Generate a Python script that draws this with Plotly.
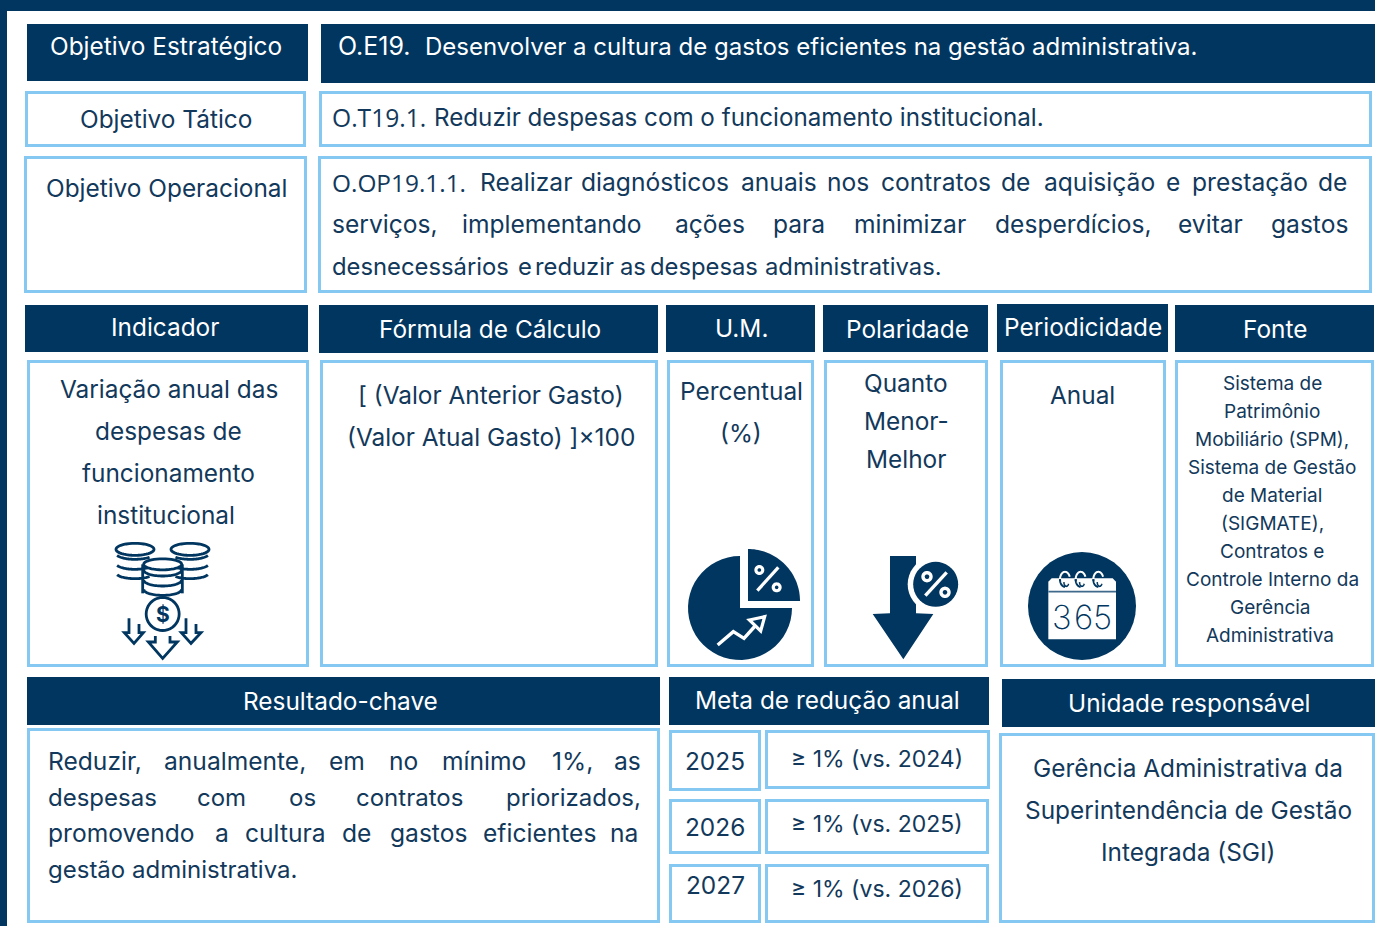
import math
import plotly.graph_objects as go

DARK = "#00365F"
LIGHT = "#85C9F3"
INK = "#12395B"
FONT = "Inter"
BASE = 24.4

# ---- content ----
dark_labels = ["Objetivo Estratégico", "Indicador", "Fórmula de Cálculo", "U.M.", "Polaridade",
               "Periodicidade", "Fonte", "Resultado-chave", "Meta de redução anual", "Unidade responsável"]
strategic_code = "O.E19."
strategic_text = "Desenvolver a cultura de gastos eficientes na gestão administrativa."
tactical_label = "Objetivo Tático"
tactical_code = "O.T19.1."
tactical_text = "Reduzir despesas com o funcionamento institucional."
operational_label = "Objetivo Operacional"
operational_code = "O.OP19.1.1."
operational_line1 = ["Realizar", "diagnósticos", "anuais", "nos", "contratos", "de", "aquisição", "e", "prestação", "de"]
operational_line2 = ["serviços,", "implementando", "ações", "para", "minimizar", "desperdícios,", "evitar", "gastos"]
operational_line3 = ["desnecessários", "e", "reduzir", "as", "despesas", "administrativas."]
indicator_lines = ["Variação anual das", "despesas de", "funcionamento", "institucional"]
formula_lines = ["[ (Valor Anterior Gasto)", "(Valor Atual Gasto) ]×100"]
unit_lines = ["Percentual", "(%)"]
polarity_lines = ["Quanto", "Menor-", "Melhor"]
periodicity = "Anual"
source_lines = ["Sistema de", "Patrimônio", "Mobiliário (SPM),", "Sistema de Gestão", "de Material", "(SIGMATE),",
                "Contratos e", "Controle Interno da", "Gerência", "Administrativa"]
result_line1 = ["Reduzir,", "anualmente,", "em", "no", "mínimo", "1%,", "as"]
result_line2 = ["despesas", "com", "os", "contratos", "priorizados,"]
result_line3 = ["promovendo", "a", "cultura", "de", "gastos", "eficientes", "na"]
result_line4 = "gestão administrativa."
years = ["2025", "2026", "2027"]
targets = ["≥ 1% (vs. 2024)", "≥ 1% (vs. 2025)", "≥ 1% (vs. 2026)"]
unit_resp_lines = ["Gerência Administrativa da", "Superintendência de Gestão", "Integrada (SGI)"]
calendar_digits = ["3", "6", "5"]

shapes, annos = [], []


def rect(x0, y0, x1, y1, fill=None, line=None, w=0):
    shapes.append(dict(type="rect", xref="x", yref="y", x0=x0, y0=y0, x1=x1, y1=y1,
                       fillcolor=fill or "rgba(0,0,0,0)", layer="below",
                       line=dict(color=line or "rgba(0,0,0,0)", width=w)))


def box(x0, y0, x1, y1):
    rect(x0 + 1.5, y0 + 1.5, x1 - 1.5, y1 - 1.5, "#FFFFFF", LIGHT, 3)


def text(s, x, y, size=BASE, color=INK, anchor="center", weight=None, family=FONT):
    f = dict(family=family, size=size, color=color)
    if weight:
        f["weight"] = weight
    annos.append(dict(text=s, x=x, y=y, xref="x", yref="y", showarrow=False, xanchor=anchor,
                      yanchor="middle", font=f, borderpad=0, borderwidth=0))


def path(d, fill=None, line=None, w=0):
    shapes.append(dict(type="path", xref="x", yref="y", path=d, layer="above",
                       fillcolor=fill or "rgba(0,0,0,0)",
                       line=dict(color=line or "rgba(0,0,0,0)", width=w)))


def arc(cx, cy, rx, ry, a0, a1, n=40):
    return [(cx + rx * math.cos(math.radians(a0 + (a1 - a0) * i / n)),
             cy + ry * math.sin(math.radians(a0 + (a1 - a0) * i / n))) for i in range(n + 1)]


def poly(pts, close=False):
    return "M" + " L".join(f"{x:.2f},{y:.2f}" for x, y in pts) + (" Z" if close else "")


def words(items, xs, y, size=24.6):
    for w_, x in zip(items, xs):
        text(w_, x, y, size=size, anchor="left")


# ---- frame ----
rect(0, 0, 1375, 11, DARK)
rect(0, 0, 7, 926, DARK)

# ---- dark header bars ----
dark_boxes = [(27, 24, 308, 81), (25, 305, 308, 352), (319, 305, 658, 353), (666, 305, 815, 352),
              (823, 305, 988, 352), (997, 304, 1168, 352), (1175, 305, 1374, 352),
              (27, 677, 660, 725), (669, 677, 989, 725), (1002, 679, 1375, 727)]
dark_centres = [(166, 46), (165, 327), (490, 329), (741, 328), (907, 329), (1083, 327), (1275, 329),
                (340, 701), (827, 700), (1189, 703)]
for b, c, s in zip(dark_boxes, dark_centres, dark_labels):
    rect(*b, DARK)
    text(s, c[0], c[1], color="#FFFFFF")
rect(321, 24, 1375, 83, DARK)
text(strategic_code, 338, 46, size=25, color="#FFFFFF", anchor="left")
text(strategic_text, 425, 46, size=24, color="#FFFFFF", anchor="left")

# ---- outlined cells ----
for b in [(25, 91, 306, 147), (319, 91, 1372, 147), (24, 156, 307, 293), (318, 156, 1372, 293),
          (27, 360, 309, 667), (320, 360, 658, 667), (667, 360, 814, 667), (824, 360, 988, 667),
          (1000, 360, 1166, 667), (1175, 360, 1374, 667), (27, 728, 660, 923),
          (669, 730, 761, 791), (765, 730, 990, 789), (669, 799, 761, 854), (765, 799, 989, 854),
          (669, 864, 761, 923), (765, 864, 989, 923), (999, 733, 1375, 923)]:
    box(*b)

# ---- body text ----
text(tactical_label, 166, 119)
text(tactical_code, 332, 117, size=24.6, anchor="left", family="Open Sans")
text(tactical_text, 434, 117, size=24.2, anchor="left")
text(operational_label, 166, 188)
text(operational_code, 332, 182, size=24.4, anchor="left", family="Open Sans")
words(operational_line1, [480, 581, 741, 827, 881, 1001, 1044, 1166, 1192, 1318], 182)
words(operational_line2, [332, 462, 675, 773, 854, 995, 1178, 1271], 224)
words(operational_line3, [332, 518, 535, 620, 650, 765], 266, size=23.8)
for s, x, y in zip(indicator_lines, [169, 168, 168, 166], [389, 431, 473, 515]):
    text(s, x, y)
for s, x, y in zip(formula_lines, [491, 491], [395, 437]):
    text(s, x, y)
for s, y in zip(unit_lines, [391, 433]):
    text(s, 741, y)
for s, y in zip(polarity_lines, [383, 421, 459]):
    text(s, 906, y)
text(periodicity, 1082, 395)
for s, x, y in zip(source_lines, [1272, 1272, 1272, 1272, 1272, 1272, 1272, 1272, 1270, 1270],
                   [383, 411, 439, 467, 495, 523, 551, 579, 607, 635]):
    text(s, x, y, size=19)
words(result_line1, [48, 164, 329, 389, 442, 552, 614], 761)
words(result_line2, [48, 197, 289, 356, 506], 797, size=24)
words(result_line3, [48, 215, 245, 342, 390, 483, 610], 833)
text(result_line4, 48, 869, size=24, anchor="left")
for s, y in zip(years, [761, 827, 885]):
    text(s, 715, y)
for s, y in zip(targets, [759, 824, 889]):
    text(s, 877, y, size=23)
for s, y in zip(unit_resp_lines, [768, 810, 852]):
    text(s, 1188, y)


# ---- icon: coins ----
def cx(v):
    return 90 + v / 3


def cy(v):
    return 530 + v / 3


for ex in [135, 300]:
    path(poly(arc(cx(ex), cy(58), 19, 6, 0, 360), True), None, DARK, 2.8)
for side, ex in [(-1, 135), (1, 300)]:
    for oy in [88, 118, 146]:
        a = (40, 160) if side == -1 else (20, 140)
        path(poly(arc(cx(ex), cy(oy - 18), 19, 6, *a)), None, DARK, 2.8)
path(poly(arc(cx(218), cy(103), 19, 5.5, 0, 360), True), "#FFFFFF", DARK, 2.8)
for oy in [132, 162, 190]:
    path(poly(arc(cx(218), cy(oy - 12), 19, 6, 0, 180)), None, DARK, 2.8)
path(poly([(cx(158), cy(103)), (cx(158), cy(190))]), None, DARK, 2.8)
path(poly([(cx(277), cy(103)), (cx(277), cy(190))]), None, DARK, 2.8)
path(poly(arc(cx(218), cy(252), 16.5, 16.5, 0, 360), True), "#FFFFFF", DARK, 2.8)
text("$", cx(218), cy(254), size=21, color=DARK, weight=700)
arrow_l = [(117, 265), (117, 308), (103, 308), (132, 340), (160, 308), (147, 308), (147, 282)]
arrow_r = [(288, 265), (288, 308), (274, 308), (303, 340), (333, 308), (318, 308), (318, 282)]
arrow_c = [(196, 318), (196, 336), (175, 336), (218, 385), (262, 336), (240, 336), (240, 318)]
for a in (arrow_l, arrow_r, arrow_c):
    path(poly([(cx(x), cy(y)) for x, y in a]), None, DARK, 2.8)


# ---- icon: pie ----
def px_(v):
    return 670 + v / 3


def py_(v):
    return 530 + v / 3


path(poly([(740, 608)] + arc(740, 608, 52, 52, 0, 270), True), DARK)
path(poly([(748, 601)] + arc(748, 601, 52, 52, 270, 360), True), DARK)


def percent(x0, y0, x1, y1, c0, c1, r, w):
    path(poly([(x0, y0), (x1, y1)]), None, "#FFFFFF", w)
    path(poly(arc(c0[0], c0[1], r, r, 0, 360), True), None, "#FFFFFF", w)
    path(poly(arc(c1[0], c1[1], r, r, 0, 360), True), None, "#FFFFFF", w)


percent(px_(325), py_(112), px_(262), py_(182), (px_(268), py_(120)), (px_(320), py_(172)), 3.4, 3.2)
path(poly([(px_(x), py_(y)) for x, y in [(143, 345), (190, 305), (222, 325), (258, 285)]]), None, "#FFFFFF", 3.4)
path(poly([(px_(x), py_(y)) for x, y in [(238, 270), (284, 260), (272, 303)]], True), DARK, "#FFFFFF", 3.2)

# ---- icon: arrow with percent ----
path(poly([(px_(x), py_(y)) for x, y in [(660, 78), (738, 78), (738, 250), (790, 252), (700, 388), (608, 252), (660, 250)]], True), DARK)
path(poly(arc(px_(797), py_(163), 28, 28, 0, 360), True), "#FFFFFF")
path(poly(arc(px_(797), py_(163), 22.5, 22.5, 0, 360), True), DARK)
percent(px_(830), py_(127), px_(766), py_(197), (px_(771), py_(140)), (px_(825), py_(187)), 4, 3.4)


# ---- icon: calendar ----
def kx(v):
    return 1010 + v / 3


def ky(v):
    return 540 + v / 3


path(poly(arc(1082, 606, 54, 54, 0, 360), True), DARK)
path(poly([(kx(115), ky(298)), (kx(115), ky(125)), (kx(125), ky(115)), (kx(308), ky(115)), (kx(318), ky(125)), (kx(318), ky(298))], True), "#FFFFFF")
path(poly([(kx(115), ky(155)), (kx(318), ky(155))]), None, "#3F6A8C", 1.6)
for rx_ in [165, 212, 265]:
    path(poly(arc(kx(rx_), ky(118), 5, 7.5, 180, 340)), None, "#FFFFFF", 2)
    path(poly(arc(kx(rx_), ky(118), 5, 7.5, 90, 180)), None, DARK, 2)
    path(poly([(kx(rx_ - 15), ky(118)), (kx(rx_ - 15), ky(122))]), None, DARK, 2)
    path(poly(arc(kx(rx_ + 4), ky(124), 2.5, 5, 30, 170)), None, DARK, 1.6)
for d, x in zip(calendar_digits, [1062, 1083, 1102]):
    text(d, x, 617, size=33, color=DARK, weight=200)

fig = go.Figure()
fig.update_layout(
    width=1375, height=926, autosize=False,
    margin=dict(l=0, r=0, t=0, b=0),
    paper_bgcolor="#FFFFFF", plot_bgcolor="#FFFFFF",
    xaxis=dict(range=[0, 1375], visible=False, fixedrange=True),
    yaxis=dict(range=[926, 0], visible=False, fixedrange=True),
    shapes=shapes, annotations=annos, showlegend=False,
    font=dict(family=FONT),
)
fig.write_html("out.html", config={"displayModeBar": False}, default_width=1375, default_height=926,
               post_script="document.body.style.margin='0';document.documentElement.style.overflow='hidden';")
